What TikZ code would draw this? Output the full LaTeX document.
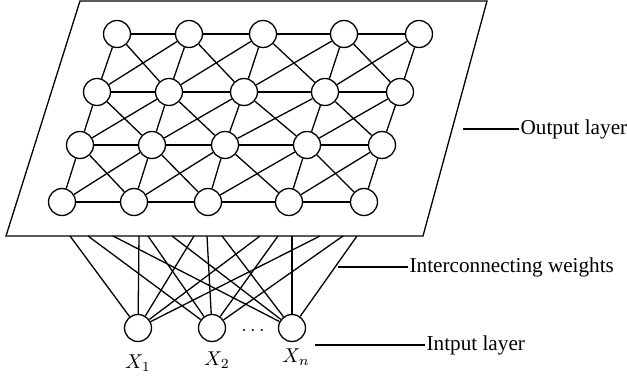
\documentclass[tikz,border=0pt]{standalone}
\usepackage{fontspec}
\setmainfont{Liberation Serif}
\tikzset{
  nd/.style   = {draw, circle, minimum size=13.5pt, inner sep=0pt, fill=white},
  lb/.style   = {font=\fontsize{10.6}{12}\selectfont, anchor=west, inner sep=0.5pt},
  xl/.style   = {font=\fontsize{10.4}{12}\selectfont, anchor=base, inner sep=0pt},
  wire/.style = {line width=0.65pt},
}
\begin{document}
\begin{tikzpicture}[x=0.5pt, y=-0.5pt, wire]
  \useasboundingbox (0,0) rectangle (627,385);

  % ===== output plane ===================================================
  \draw (80,1) -- (487,1) -- (423,236) -- (6,236) -- cycle;

  % ===== output grid ====================================================
  \node[nd] (a1) at (117, 34) {};
  \node[nd] (a2) at (189, 34) {};
  \node[nd] (a3) at (263, 34) {};
  \node[nd] (a4) at (344, 34) {};
  \node[nd] (a5) at (419, 34) {};
  \node[nd] (b1) at ( 97, 92) {};
  \node[nd] (b2) at (169, 92) {};
  \node[nd] (b3) at (244, 92) {};
  \node[nd] (b4) at (325, 92) {};
  \node[nd] (b5) at (400, 92) {};
  \node[nd] (c1) at ( 80,145) {};
  \node[nd] (c2) at (152,145) {};
  \node[nd] (c3) at (225,145) {};
  \node[nd] (c4) at (307,145) {};
  \node[nd] (c5) at (382,145) {};
  \node[nd] (d1) at ( 62,202) {};
  \node[nd] (d2) at (134,202) {};
  \node[nd] (d3) at (208,202) {};
  \node[nd] (d4) at (289,202) {};
  \node[nd] (d5) at (364,202) {};

  % rows
  \draw (a1) -- (a2) -- (a3) -- (a4) -- (a5);
  \draw (b1) -- (b2) -- (b3) -- (b4) -- (b5);
  \draw (c1) -- (c2) -- (c3) -- (c4) -- (c5);
  \draw (d1) -- (d2) -- (d3) -- (d4) -- (d5);
  % columns
  \draw (a1) -- (b1) -- (c1) -- (d1);
  \draw (a2) -- (b2) -- (c2) -- (d2);
  \draw (a3) -- (b3) -- (c3) -- (d3);
  \draw (a4) -- (b4) -- (c4) -- (d4);
  \draw (a5) -- (b5) -- (c5) -- (d5);
  % falling diagonals
  \draw (a1) -- (b2) -- (c3) -- (d4);
  \draw (a2) -- (b3) -- (c4) -- (d5);
  \draw (a3) -- (b4) -- (c5);
  \draw (a4) -- (b5);
  \draw (b1) -- (c2) -- (d3);
  \draw (c1) -- (d2);
  % rising diagonals
  \draw (d1) -- (c2) -- (b3) -- (a4);
  \draw (d2) -- (c3) -- (b4) -- (a5);
  \draw (d3) -- (c4) -- (b5);
  \draw (d4) -- (c5);
  \draw (c1) -- (b2) -- (a3);
  \draw (b1) -- (a2);

  % ===== input layer ====================================================
  \node[nd] (x1) at (138,328) {};
  \node[nd] (x2) at (212,328) {};
  \node[nd] (xn) at (292,328) {};
  \node[xl] (dots) at (253,335) {$\cdots$};
  \node[xl] (lx1)  at (138,368) {$X_1$};
  \node[xl] (lx2)  at (217,365) {$X_2$};
  \node[xl] (lxn)  at (296,362) {$X_n$};

  % ===== interconnecting weights ========================================
  \coordinate (p1)  at ( 70,236); \coordinate (q1)  at ( 88,236);
  \coordinate (r1)  at (113,236); \coordinate (p2)  at (139,236);
  \coordinate (q2)  at (148,236); \coordinate (r2)  at (172,236);
  \coordinate (p3)  at (194,236); \coordinate (q3)  at (207,236);
  \coordinate (r3)  at (222,236); \coordinate (p4)  at (260,236);
  \coordinate (q4)  at (278,236); \coordinate (r4)  at (292,236);
  \coordinate (p5)  at (320,236); \coordinate (q5)  at (343,236);
  \coordinate (r5)  at (357,236);

  \draw (x1) -- (p1);  \draw (x1) -- (p2);  \draw (x1) -- (p3);
  \draw (x1) -- (p4);  \draw (x1) -- (p5);
  \draw (x2) -- (q1);  \draw (x2) -- (q2);  \draw (x2) -- (q3);
  \draw (x2) -- (q4);  \draw (x2) -- (q5);
  \draw (xn) -- (r1);  \draw (xn) -- (r2);  \draw (xn) -- (r3);
  \draw (xn) -- (r4);  \draw (xn) -- (r5);

  % ===== labels =========================================================
  \node[lb] (outl) at (519,129) {Output layer};
  \coordinate (outt) at (463,129);
  \draw (outt) -- (outl.west);

  \node[lb] (wgtl) at (408,267) {Interconnecting weights};
  \coordinate (wgtt) at (338,267);
  \draw (wgtt) -- (wgtl.west);

  \node[lb] (inl) at (425,345) {Intput layer};
  \coordinate (int) at (315,345);
  \draw (int) -- (inl.west);

\end{tikzpicture}
\end{document}
